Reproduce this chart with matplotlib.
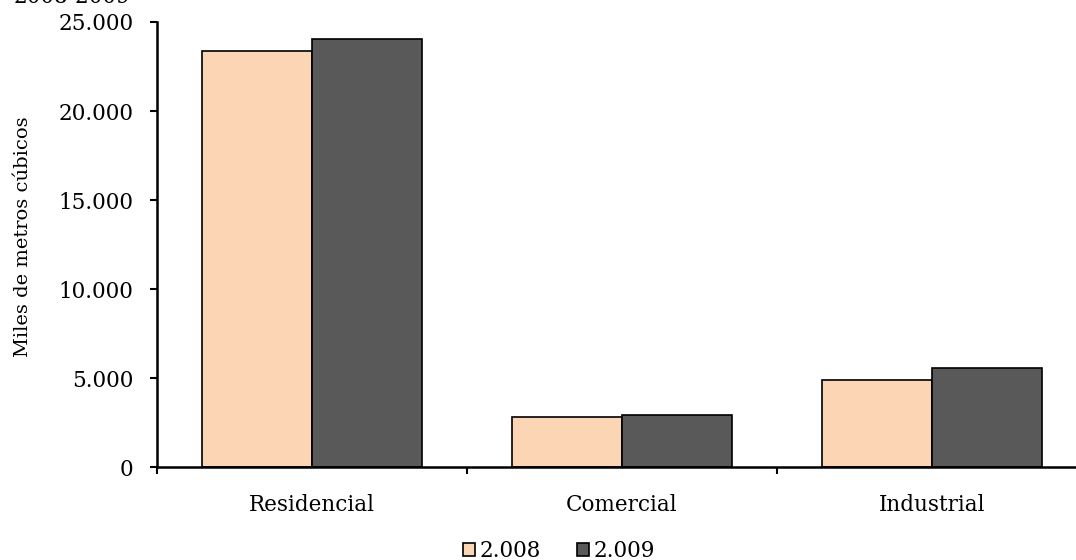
import numpy as np
import matplotlib.pyplot as plt

categorias = ['Residencial', 'Comercial', 'Industrial']
anio_2008 = [23370, 2840, 4900]
anio_2009 = [24040, 2950, 5560]
series = ['2.008', '2.009']

plt.rcParams['font.family'] = ['DejaVu Serif']

fig = plt.figure(figsize=(10.76, 5.6), dpi=100)
# el eje se sale un poco por la derecha, como en el original
ax = fig.add_axes([157 / 1076, 92.7 / 560, 930 / 1076, 445.3 / 560])

x = np.arange(len(categorias))
ancho = 0.355
ax.bar(x - ancho / 2, anio_2008, ancho, color='#FCD5B5', edgecolor='black', linewidth=1.2, label=series[0])
ax.bar(x + ancho / 2, anio_2009, ancho, color='#595959', edgecolor='black', linewidth=1.2, label=series[1])

ax.set_xlim(-0.5, 2.5)
ax.set_ylim(0, 25000)
ax.set_yticks(np.arange(0, 25001, 5000))
ax.set_yticklabels(['0' if v == 0 else f'{v // 1000}.000' for v in range(0, 25001, 5000)], fontsize=15.5)

ax.set_xticks([-0.5, 0.5, 1.5, 2.5])
ax.set_xticklabels([])
ax.set_xticks(x, minor=True)
ax.set_xticklabels(categorias, minor=True, fontsize=15.5)
ax.tick_params(axis='x', which='minor', length=0, pad=19)
ax.tick_params(axis='both', which='major', length=5, width=1.5, direction='out')
ax.tick_params(axis='y', which='major', pad=12)

for s in ['top', 'right']:
    ax.spines[s].set_visible(False)
ax.spines['left'].set_linewidth(1.8)
ax.spines['bottom'].set_linewidth(1.8)

ax.set_ylabel('Miles de metros cúbicos', fontsize=14)
ax.yaxis.set_label_coords(-0.134, 0.517)

fig.legend(loc='center', bbox_to_anchor=(559 / 1076, 9 / 560), ncol=2, frameon=False, fontsize=15.5,
           handlelength=0.55, handleheight=0.55, handletextpad=0.2, columnspacing=1.7)

# titulo recortado en el borde superior
fig.text(130 / 1076, 1 - 3 / 560, '2008-2009', ha='right', va='baseline', fontsize=15.5)

fig.savefig('out.png', dpi=100)
